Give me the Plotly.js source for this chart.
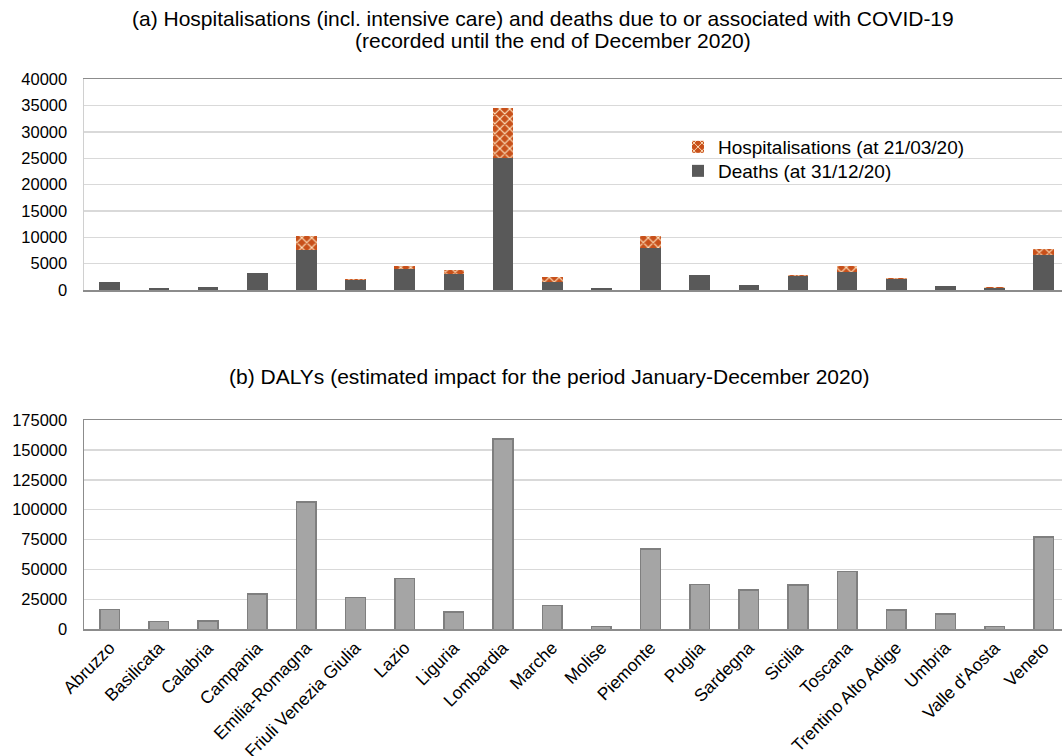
<!DOCTYPE html>
<html>
<head>
<meta charset="utf-8">
<script src="https://cdn.plot.ly/plotly-3.0.1.min.js"></script>
<style>html,body{margin:0;padding:0;background:#fff;}#chart{width:1062px;height:756px;}</style>
</head>
<body>
<div id="chart"></div>
<script>
const regions = ["Abruzzo","Basilicata","Calabria","Campania","Emilia-Romagna","Friuli Venezia Giulia","Lazio","Liguria","Lombardia","Marche","Molise","Piemonte","Puglia","Sardegna","Sicilia","Toscana","Trentino Alto Adige","Umbria","Valle d'Aosta","Veneto"];
const deaths = [1450,300,550,3150,7550,1950,3900,3000,25000,1600,300,7900,2800,900,2750,3500,2000,780,450,6600];
const hospitalisations = [100,20,50,100,2750,60,650,800,9500,900,20,2400,60,50,40,1100,200,40,40,1200];
const dalys = [16500,6500,6800,29500,106500,26500,42500,14500,159000,20000,2200,67000,37500,33000,37000,48500,16000,13000,2200,77000];
const yTicksTop = [0,5000,10000,15000,20000,25000,30000,35000,40000];
const yTicksBottom = [0,25000,50000,75000,100000,125000,150000,175000];

const H = 756, W = 1062;
const py = p => 1 - p / H;
const px = p => (p - 84) / 978;
const font = 'Liberation Sans, Arial, sans-serif';

const traces = [
  {type:'bar', x:regions, y:deaths, name:'Deaths (at 31/12/20)', xaxis:'x', yaxis:'y', legend:'legend2',
   width:0.42, marker:{color:'#595959', line:{width:0}}},
  {type:'bar', x:regions, y:hospitalisations, name:'Hospitalisations (at 21/03/20)', xaxis:'x', yaxis:'y', legend:'legend',
   width:0.42, marker:{color:'#c55a11', line:{width:0},
     pattern:{shape:'x', fgcolor:'#ffe6c2', bgcolor:'#c8501a', size:7, solidity:0.3}}},
  {type:'bar', x:regions, y:dalys, name:'DALYs', xaxis:'x2', yaxis:'y2', showlegend:false,
   width:0.4, marker:{color:'#a5a5a5', line:{width:1.5, color:'#7f7f7f'}}}
];

const xr = [-0.523, 19.37];
const legendBase = {xanchor:'left', yanchor:'middle', font:{family:font, size:19, color:'#000'},
                    bgcolor:'rgba(0,0,0,0)', itemwidth:30};
const layout = {
  width:W, height:H,
  margin:{l:84, r:0, t:0, b:0},
  paper_bgcolor:'#fff', plot_bgcolor:'#fff',
  barmode:'stack',
  font:{family:font, color:'#000', size:16},
  showlegend:true,
  legend:Object.assign({x:px(678), y:py(147)}, legendBase),
  legend2:Object.assign({x:px(678), y:py(171)}, legendBase),
  xaxis:{domain:[0,1], range:xr, type:'category', anchor:'y', showticklabels:false, ticks:'',
         showline:true, linecolor:'#8c8c8c', linewidth:1.5, mirror:true, showgrid:false, zeroline:false},
  yaxis:{domain:[py(290), py(79.3)], range:[0,40000], tickvals:yTicksTop, ticktext:yTicksTop.map(String),
         anchor:'x', showline:true, linecolor:'#d0d0d0', linewidth:1.5, ticks:'', ticklabelstandoff:12,
         gridcolor:'#d9d9d9', gridwidth:1.5, zeroline:false, tickfont:{size:16.5}},
  xaxis2:{domain:[0,1], range:xr, type:'category', anchor:'y2', ticks:'', tickangle:-45,
          tickfont:{size:17.5}, showline:true, linecolor:'#8c8c8c', linewidth:1.5, mirror:true,
          showgrid:false, zeroline:false},
  yaxis2:{domain:[py(629.3), py(420)], range:[0,175000], tickvals:yTicksBottom, ticktext:yTicksBottom.map(String),
          anchor:'x2', showline:true, linecolor:'#8c8c8c', linewidth:1.5, ticks:'', ticklabelstandoff:12,
          gridcolor:'#d9d9d9', gridwidth:1.5, zeroline:false, tickfont:{size:16.5}},
  annotations:[
    {text:'(a) Hospitalisations (incl. intensive care) and deaths due to or associated with COVID-19',
     xref:'paper', yref:'paper', x:px(543), y:py(19), xanchor:'center', yanchor:'middle', showarrow:false,
     font:{size:21}},
    {text:'(recorded until the end of December 2020)',
     xref:'paper', yref:'paper', x:px(553), y:py(40), xanchor:'center', yanchor:'middle', showarrow:false,
     font:{size:21}},
    {text:'(b) DALYs (estimated impact for the period January-December 2020)',
     xref:'paper', yref:'paper', x:px(549), y:py(377), xanchor:'center', yanchor:'middle', showarrow:false,
     font:{size:21}}
  ]
};

Plotly.newPlot('chart', traces, layout, {displayModeBar:false, staticPlot:true});
</script>
</body>
</html>
